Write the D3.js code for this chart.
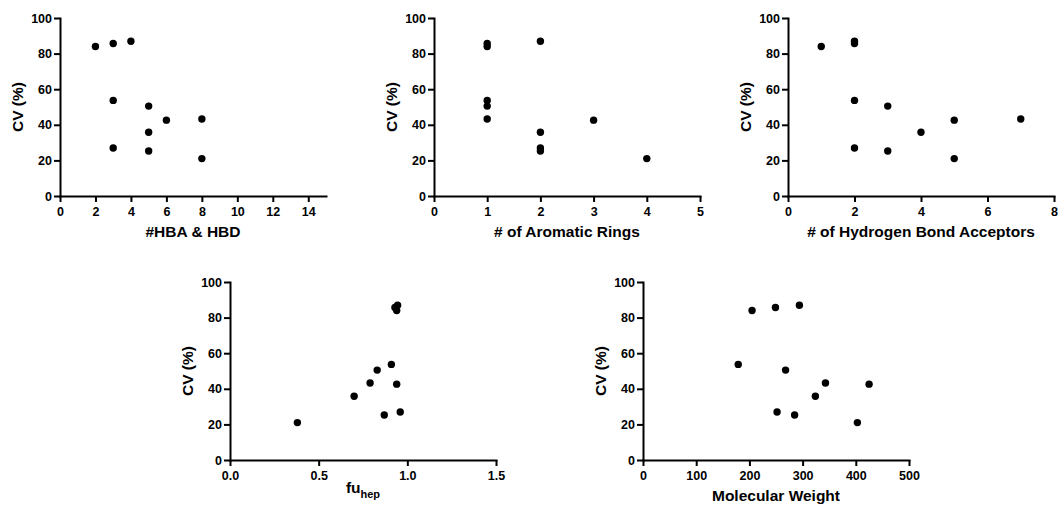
<!DOCTYPE html>
<html>
<head>
<meta charset="utf-8">
<script src="https://cdnjs.cloudflare.com/ajax/libs/d3/7.8.5/d3.min.js"></script>
<style>
  body { margin: 0; background: #fff; }
  svg text { font-family: "Liberation Sans", Arial, sans-serif; font-weight: bold; fill: #000; }
  .axis path, .axis line { stroke: #000; stroke-width: 2; }
  .axis text { font-size: 12.5px; }
  .title { font-size: 15.5px; }
</style>
</head>
<body>
<script>
// CV (%) per compound, same order in every array
var cv = [84.0, 85.7, 86.9, 53.7, 50.5, 43.3, 42.6, 35.8, 27.0, 25.3, 21.0];
var hbaHbd = [2, 3, 4, 3, 5, 8, 6, 5, 3, 5, 8];
var aromaticRings = [1, 1, 2, 1, 1, 1, 3, 2, 2, 2, 4];
var hba = [1, 2, 2, 2, 3, 7, 5, 4, 2, 3, 5];
var fuHep = [0.94, 0.93, 0.945, 0.91, 0.83, 0.79, 0.94, 0.70, 0.96, 0.87, 0.38];
var mw = [205, 249, 294, 179, 268, 343, 425, 324, 252, 285, 403];

var yTicks = [0, 20, 40, 60, 80, 100];

var w = 1059;
var h = 508;
var pw = 266;
var ph = 178;
var ptSize = 3.7;

var svg = d3.select("body")
            .append("svg")
            .attr("width", w)
            .attr("height", h);

function drawPanel(left, top, xs, xMax, xTicks, xFmt, title) {
  var g = svg.append("g").attr("transform", "translate(" + left + "," + top + ")");

  var x = d3.scaleLinear().domain([0, xMax]).range([0, pw]);
  var y = d3.scaleLinear().domain([0, 100]).range([ph, 0]);

  g.append("g")
    .attr("class", "axis")
    .attr("transform", "translate(0," + ph + ")")
    .call(d3.axisBottom(x).tickValues(xTicks).tickFormat(xFmt).tickSize(6).tickSizeOuter(0).tickPadding(5));

  g.append("g")
    .attr("class", "axis")
    .call(d3.axisLeft(y).tickValues(yTicks).tickSize(6).tickSizeOuter(0).tickPadding(2));

  g.selectAll(".axis .domain").attr("stroke-linecap", "square");

  g.selectAll(".point")
    .data(xs)
    .enter()
    .append("circle")
    .attr("cx", function(d) { return x(d); })
    .attr("cy", function(d, i) { return y(cv[i]); })
    .attr("r", ptSize)
    .attr("fill", "#000");

  // y title
  g.append("text")
    .attr("class", "title")
    .attr("transform", "translate(-37," + (ph / 2) + ") rotate(-90)")
    .attr("text-anchor", "middle")
    .text("CV (%)");

  // x title
  var t = g.append("text")
    .attr("class", "title")
    .attr("x", pw / 2)
    .attr("y", ph + 41)
    .attr("text-anchor", "middle");
  if (title === "fuhep") {
    t.attr("y", ph + 33);
    t.append("tspan").text("fu");
    t.append("tspan").attr("dy", 5).style("font-size", "11px").text("hep");
  } else {
    t.text(title);
  }
}

var fmtInt = d3.format("d");
var fmt1 = d3.format(".1f");

drawPanel(60, 18, hbaHbd, 15, [0, 2, 4, 6, 8, 10, 12, 14], fmtInt, "#HBA & HBD");
drawPanel(434, 18, aromaticRings, 5, [0, 1, 2, 3, 4, 5], fmtInt, "# of Aromatic Rings");
drawPanel(788, 18, hba, 8, [0, 2, 4, 6, 8], fmtInt, "# of Hydrogen Bond Acceptors");
drawPanel(230, 282, fuHep, 1.5, [0, 0.5, 1.0, 1.5], fmt1, "fuhep");
drawPanel(643, 282, mw, 500, [0, 100, 200, 300, 400, 500], fmtInt, "Molecular Weight");
</script>
</body>
</html>
